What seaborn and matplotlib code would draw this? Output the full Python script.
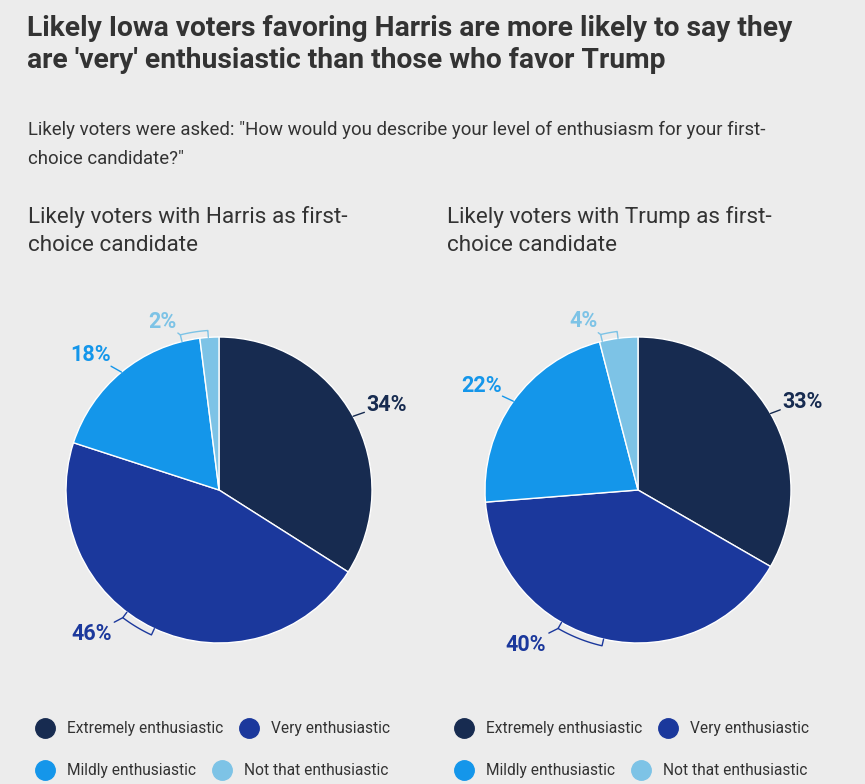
import numpy as np
import matplotlib.pyplot as plt
from matplotlib.lines import Line2D
import seaborn as sns

# data
categories = ["Extremely enthusiastic", "Very enthusiastic",
              "Mildly enthusiastic", "Not that enthusiastic"]
harris_values = [34, 46, 18, 2]
trump_values = [33, 40, 22, 4]
panel_titles = ["Likely voters with Harris as first-\nchoice candidate",
                "Likely voters with Trump as first-\nchoice candidate"]

title = ("Likely Iowa voters favoring Harris are more likely to say they\n"
         "are 'very' enthusiastic than those who favor Trump")
subtitle = ('Likely voters were asked: "How would you describe your level of enthusiasm for your first-\n'
            'choice candidate?"')

colors = sns.color_palette(["#172b50", "#1b389c", "#1496ea", "#7dc3e6"])
bg = "#ececec"
dark = "#333333"

sns.set_theme(style="white", rc={"figure.facecolor": bg, "axes.facecolor": bg})
plt.rcParams["font.family"] = ["Roboto", "DejaVu Sans"]

W, H = 865, 784
fig = plt.figure(figsize=(W / 100, H / 100), dpi=100)

fig.text(27 / W, 1 - 15 / H, title, ha="left", va="top", fontsize=20.3,
         fontweight="bold", color=dark, linespacing=1.22)
fig.text(28 / W, 1 - 121 / H, subtitle, ha="left", va="top", fontsize=13.4,
         color=dark, linespacing=1.75)

R = 153
K = 1.4
centers = [(219, 490), (638, 490)]
# label placement (angle in degrees, radius in pie units), tuned to the reference
label_pos = [[(27, 1.23), (-131.5, 1.26), (133.5, 1.22), (108.5, 1.16)],
             [(28.3, 1.22), (-126, 1.25), (146.5, 1.23), (108, 1.16)]]
# bracket spans (degrees) for slices whose leader starts from a bracket
brackets = [{1: (-127, -115), 3: (94, 104)}, {1: (-120, -103), 3: (97.5, 103.5)}]

for i, (vals, ttl) in enumerate(zip([harris_values, trump_values], panel_titles)):
    cx, cy = centers[i]
    half = R * K
    ax = fig.add_axes([(cx - half) / W, (H - cy - half) / H, 2 * half / W, 2 * half / H])
    ax.pie(vals, colors=colors, startangle=90, counterclock=False, radius=1,
           wedgeprops=dict(edgecolor="white", linewidth=1))
    ax.set_xlim(-K, K)
    ax.set_ylim(-K, K)
    ax.set_aspect("equal")
    ax.axis("off")

    total = sum(vals)
    cum = 0
    for j, v in enumerate(vals):
        mid = 90 - (cum + v / 2) / total * 360
        cum += v
        col = colors[j]
        la, lr = label_pos[i][j]
        lx, ly = lr * np.cos(np.deg2rad(la)), lr * np.sin(np.deg2rad(la))
        ax.text(lx, ly, f"{v}%", ha="center", va="center", fontsize=15.5,
                fontweight="bold", color=col)
        if j in brackets[i]:
            a1, a2 = brackets[i][j]
            t = np.deg2rad(np.linspace(a1, a2, 30))
            rb = 1.045
            bx = np.concatenate([[np.cos(t[0])], rb * np.cos(t), [np.cos(t[-1])]])
            by = np.concatenate([[np.sin(t[0])], rb * np.sin(t), [np.sin(t[-1])]])
            ax.plot(bx, by, color=col, lw=1, clip_on=False)
            # leader from the bracket end nearest the label
            ends = [(rb * np.cos(t[0]), rb * np.sin(t[0])),
                    (rb * np.cos(t[-1]), rb * np.sin(t[-1]))]
            ex, ey = min(ends, key=lambda p: (p[0] - lx) ** 2 + (p[1] - ly) ** 2)
            d = np.hypot(lx - ex, ly - ey)
            stop = max(d - 0.17, 0.02)
            ax.plot([ex, ex + (lx - ex) * stop / d], [ey, ey + (ly - ey) * stop / d],
                    color=col, lw=1, clip_on=False)
        else:
            ax.annotate("", xy=(np.cos(np.deg2rad(mid)), np.sin(np.deg2rad(mid))),
                        xytext=(lx, ly),
                        arrowprops=dict(arrowstyle="-", color=col, lw=1,
                                        shrinkA=17, shrinkB=0))

    fig.text((cx - 191) / W, 1 - 206 / H, ttl, ha="left", va="top",
             fontsize=16.2, color=dark, linespacing=1.42)

    # legend rows wrap independently, like the reference
    for row, (idx, top) in enumerate([([0, 1], 707), ([2, 3], 749)]):
        handles = [Line2D([], [], marker="o", linestyle="", markersize=14,
                          markerfacecolor=colors[k], markeredgecolor=colors[k]) for k in idx]
        leg = fig.legend(handles, [categories[k] for k in idx], ncol=2, loc="upper left",
                         bbox_to_anchor=((cx - 196) / W, 1 - top / H), frameon=False,
                         fontsize=11.2, labelcolor=dark, handletextpad=0.9,
                         columnspacing=1.2, handlelength=1.0)

fig.savefig("out.png", dpi=100, facecolor=bg)
